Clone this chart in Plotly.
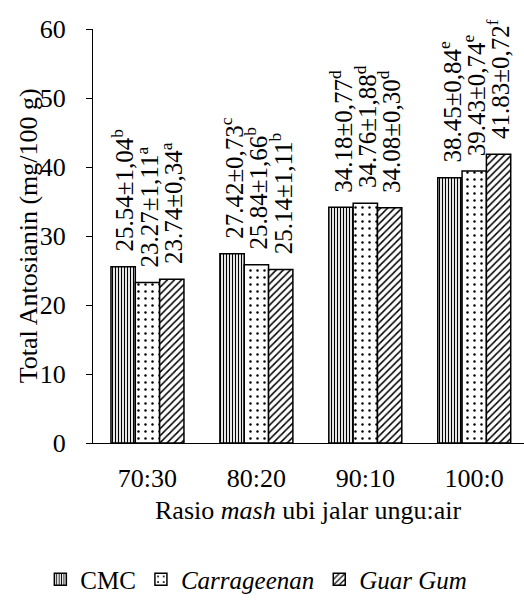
import plotly.graph_objects as go

ratios = ["70:30", "80:20", "90:10", "100:0"]
cmc = [25.54, 27.42, 34.18, 38.45]
carr = [23.27, 25.84, 34.76, 39.43]
guar = [23.74, 25.14, 34.08, 41.83]
cmc_sd = ["1,04", "0,73", "0,77", "0,84"]
carr_sd = ["1,11", "1,66", "1,88", "0,74"]
guar_sd = ["0,34", "1,11", "0,30", "0,72"]
cmc_let = ["b", "c", "d", "e"]
carr_let = ["a", "b", "d", "e"]
guar_let = ["a", "b", "d", "f"]

FONT = "Liberation Serif"
W, H = 524, 603
L, R, T, B = 92.7, 0, 29.3, 151.3
plot_w = W - L - R
plot_h = H - T - B
cat_px = 109.0
bargap = 0.33

series = [
    ("CMC", cmc, cmc_sd, cmc_let, dict(shape="|", size=3, solidity=0.4)),
    ("<i>Carrageenan</i>", carr, carr_sd, carr_let, dict(shape=".", size=7, solidity=0.1)),
    ("<i>Guar Gum</i>", guar, guar_sd, guar_let, dict(shape="/", size=5, solidity=0.3)),
]

fig = go.Figure()
for name, vals, sd, let, pat in series:
    fig.add_trace(go.Bar(
        x=ratios, y=vals, name=name,
        marker=dict(color="white", line=dict(color="black", width=1.5),
                    pattern=dict(fgcolor="black", bgcolor="white", fillmode="replace", **pat)),
    ))

bw = (1 - bargap) / len(series)
annotations = []
for k, (name, vals, sd, let, pat) in enumerate(series):
    for i, v in enumerate(vals):
        annotations.append(dict(
            x=i + (k - 1) * bw, y=v, xref="x", yref="y",
            text=f"{v:.2f}±{sd[i]}<sup>{let[i]}</sup>",
            textangle=-90, showarrow=False, xanchor="center", yanchor="bottom",
            yshift=13, font=dict(family=FONT, size=25, color="black"),
        ))

annotations.append(dict(
    x=(28 - L) / plot_w, y=0.5, xref="paper", yref="paper",
    text="Total Antosianin (mg/100 g)", textangle=-90, showarrow=False,
    xanchor="center", yanchor="middle", font=dict(family=FONT, size=26, color="black"),
))
annotations.append(dict(
    x=0.5, y=-(521 - (T + plot_h)) / plot_h, xref="paper", yref="paper",
    text="Rasio <i>mash</i> ubi jalar ungu:air", showarrow=False,
    xanchor="center", yanchor="middle", font=dict(family=FONT, size=26, color="black"),
))

fig.update_layout(
    width=W, height=H,
    margin=dict(l=L, r=R, t=T, b=B, pad=0),
    paper_bgcolor="white", plot_bgcolor="white",
    barmode="group", bargap=bargap, bargroupgap=0,
    font=dict(family=FONT, size=26, color="black"),
    showlegend=True,
    legend=dict(orientation="h", x=(40 - L) / plot_w, xanchor="left",
                y=-(591 - (T + plot_h)) / plot_h, yanchor="middle",
                font=dict(family=FONT, size=25, color="black"),
                itemwidth=30, traceorder="normal"),
    annotations=annotations,
)
fig.update_xaxes(
    range=[-0.5, -0.5 + plot_w / cat_px], showline=True, linecolor="black", linewidth=1.2,
    ticks="", showgrid=False, zeroline=False, ticklabelstandoff=12,
    tickfont=dict(family=FONT, size=26, color="black"),
)
fig.update_yaxes(
    range=[0, 60], dtick=10, showline=True, linecolor="black", linewidth=1.2,
    ticks="outside", ticklen=6, tickcolor="black", tickwidth=1.2,
    showgrid=False, zeroline=False, ticklabelstandoff=15,
    tickfont=dict(family=FONT, size=26, color="black"),
)

fig.write_html("out.html")
